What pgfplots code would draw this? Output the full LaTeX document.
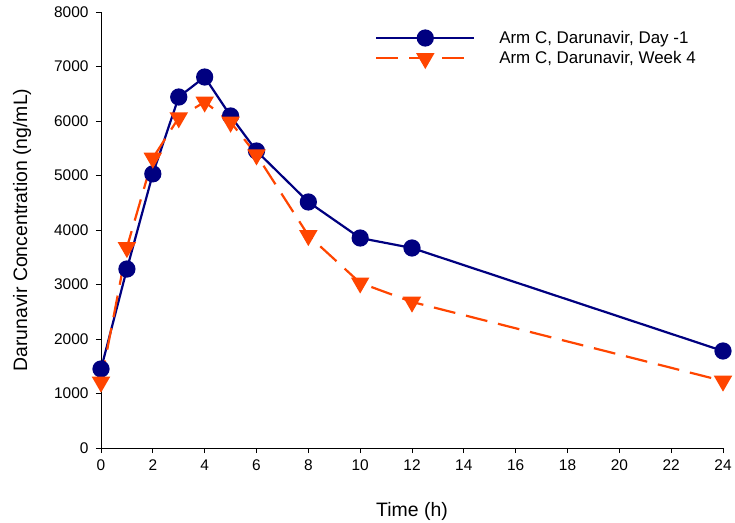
\documentclass[border=0pt]{standalone}
\usepackage{fontspec}
\setmainfont{Liberation Sans}
\usepackage{pgfplots}
\pgfplotsset{compat=1.18}
\definecolor{navyc}{RGB}{0,0,128}
\definecolor{orangec}{RGB}{255,69,0}
\begin{document}
\begin{tikzpicture}[x=1bp,y=1bp]
\useasboundingbox (0,0) rectangle (735bp,523bp);
\begin{axis}[
  at={(101bp,75bp)}, anchor=south west,
  scale only axis, width=622bp, height=436bp,
  xmin=0, xmax=24, ymin=0, ymax=8000,
  axis lines=left, axis line style={-, line width=0.8pt},
  xtick={0,2,...,24}, ytick={0,1000,...,8000},
  tick align=outside, major tick length=5bp,
  tick style={black, line width=0.8pt},
  /pgf/number format/assume math mode=true,
  scaled y ticks=false,
  yticklabel style={/pgf/number format/1000 sep={}, xshift=-4bp},
  xticklabel style={yshift=-3bp},
  ticklabel style={font=\fontsize{15.5}{17}\selectfont},
  xlabel={Time (h)}, ylabel={Darunavir Concentration (ng/mL)},
  label style={font=\fontsize{19.5}{22}\selectfont},
  xlabel style={at={(axis description cs:0.5,-0.1445)}, anchor=center},
  ylabel style={at={(axis description cs:-0.127,0.5)}, anchor=center},
  legend style={draw=none, fill=none, at={(axis description cs:0.4405,0.958)}, anchor=north west,
    font=\fontsize{17}{19}\selectfont, row sep=6bp, inner sep=0pt, nodes={inner sep=0pt},
    /tikz/every even column/.append style={column sep=0pt}},
  legend cell align=left,
  legend image code/.code={\draw[#1] (0bp,0bp) -- (98bp,0bp); \draw[#1, only marks] plot coordinates {(49bp,0bp)}; \path[draw=none, fill=none] (98bp,0bp) -- (123bp,0bp);},
  clip=false,
]
\addplot[navyc, line width=2.2bp, mark=*, mark size=7.5bp, mark options={solid, fill=navyc}] coordinates {
(0,1450) (1,3284) (2,5030) (3,6440) (4,6807) (5,6092) (6,5450) (8,4514) (10,3853) (12,3670) (24,1780)};
\addlegendentry{Arm C, Darunavir, Day -1}
\addplot[orangec, line width=2.2bp, dash pattern=on 22bp off 11bp, mark=triangle*, mark size=8.5bp, mark options={solid, fill=orangec, rotate=180}] coordinates {
(0,1211) (1,3680) (2,5320) (3,6060) (4,6350) (5,5980) (6,5380) (8,3900) (10,3030) (12,2680) (24,1230)};
\addlegendentry{Arm C, Darunavir, Week 4}
\end{axis}
\end{tikzpicture}
\end{document}
